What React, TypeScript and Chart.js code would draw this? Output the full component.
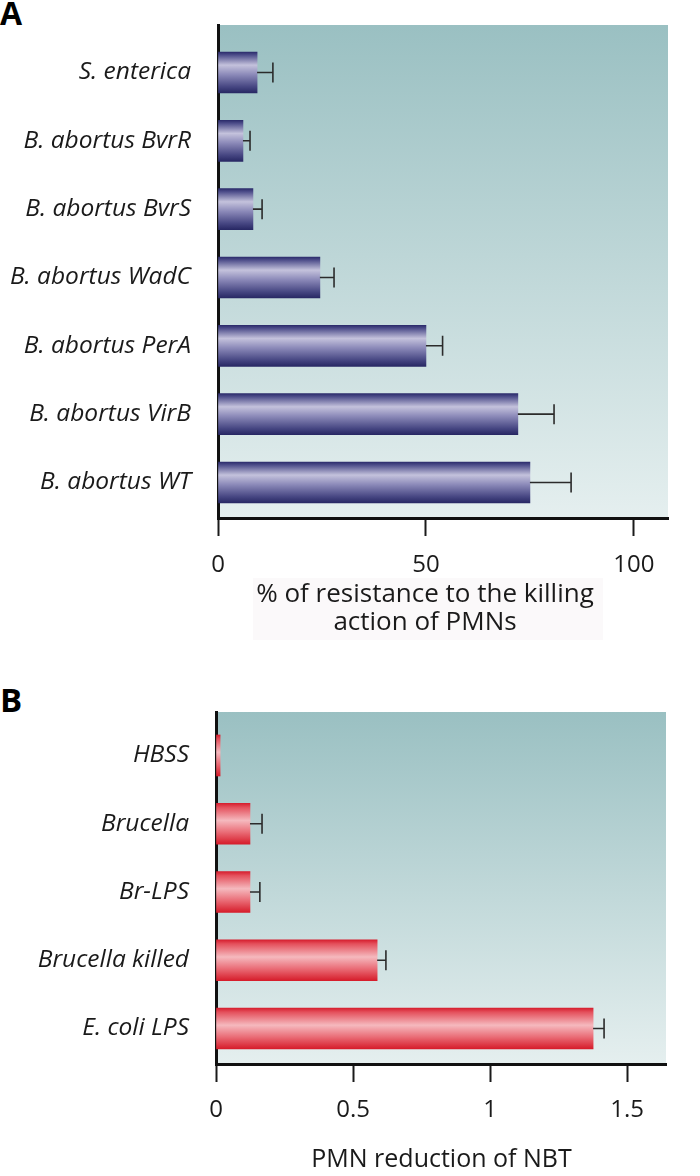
import React, { useEffect, useRef } from "react";
import { Chart, registerables } from "chart.js";

Chart.register(...registerables);

// ---------- data ----------
const categoriesA = [
  "S. enterica",
  "B. abortus BvrR",
  "B. abortus BvrS",
  "B. abortus WadC",
  "B. abortus PerA",
  "B. abortus VirB",
  "B. abortus WT",
];
const valuesA = [9.4, 6.0, 8.4, 24.5, 50, 72.1, 75];
const errorsA = [3.8, 1.7, 2.2, 3.4, 4.0, 8.7, 9.9];
const ticksA = [0, 50, 100];
const titleA = ["% of resistance to the killing", "action of PMNs"];

const categoriesB = ["HBSS", "Brucella", "Br-LPS", "Brucella killed", "E. coli LPS"];
const valuesB = [0.015, 0.124, 0.124, 0.588, 1.376];
const errorsB = [0, 0.044, 0.036, 0.032, 0.04];
const ticksB = [0, 0.5, 1, 1.5];
const titleB = "PMN reduction of NBT";

const FONT = "'Open Sans', 'Noto Sans', sans-serif";
const BAR_PX = 41;

const blueStops: [number, string][] = [
  [0, "rgb(44,44,108)"],
  [0.08, "rgb(80,80,140)"],
  [0.32, "rgb(196,194,220)"],
  [0.55, "rgb(140,138,185)"],
  [0.85, "rgb(70,70,130)"],
  [1, "rgb(40,40,100)"],
];
const redStops: [number, string][] = [
  [0, "rgb(214,30,46)"],
  [0.1, "rgb(228,80,92)"],
  [0.42, "rgb(245,185,190)"],
  [0.7, "rgb(234,110,120)"],
  [1, "rgb(214,28,42)"],
];

function barGradient(stops: [number, string][]) {
  return (ctx: any) => {
    const chart = ctx.chart;
    const ys = chart.scales && chart.scales.y;
    if (!ys || !chart.chartArea || ctx.dataIndex === undefined) return stops[2][1];
    const center = ys.getPixelForValue(ctx.dataIndex);
    const half = BAR_PX / 2;
    const g = chart.ctx.createLinearGradient(0, center - half, 0, center + half);
    stops.forEach(([o, c]) => g.addColorStop(o, c));
    return g;
  };
}

const bgPlugin = {
  id: "plotBg",
  beforeDraw(chart: any) {
    const { ctx, chartArea } = chart;
    if (!chartArea) return;
    const g = ctx.createLinearGradient(0, chartArea.top, 0, chartArea.bottom);
    g.addColorStop(0, "rgb(154,192,194)");
    g.addColorStop(1, "rgb(229,239,239)");
    ctx.save();
    ctx.fillStyle = g;
    ctx.fillRect(chartArea.left, chartArea.top, chartArea.right - chartArea.left, chartArea.bottom - chartArea.top);
    ctx.restore();
  },
};

const errPlugin = {
  id: "errBars",
  afterDatasetsDraw(chart: any, _args: any, opts: any) {
    const errs: number[] = opts.errors || [];
    const vals: number[] = opts.values || [];
    const ctx = chart.ctx;
    const xs = chart.scales.x;
    const ys = chart.scales.y;
    ctx.save();
    ctx.strokeStyle = "#2b2b2b";
    ctx.lineWidth = 1.6;
    vals.forEach((v: number, i: number) => {
      if (!errs[i]) return;
      const x0 = xs.getPixelForValue(v);
      const x1 = xs.getPixelForValue(v + errs[i]);
      const y = ys.getPixelForValue(i);
      ctx.beginPath();
      ctx.moveTo(x0, y);
      ctx.lineTo(x1, y);
      ctx.moveTo(x1, y - 10);
      ctx.lineTo(x1, y + 10);
      ctx.stroke();
    });
    ctx.restore();
  },
};

function makeConfig(
  labels: string[],
  values: number[],
  errors: number[],
  ticks: number[],
  xMax: number,
  yMin: number,
  yMax: number,
  yWidth: number,
  xHeight: number,
  tickPad: number,
  stops: [number, string][],
  padTop: number,
  padRight: number
): any {
  return {
    type: "bar",
    data: {
      datasets: [
        {
          data: values.map((v, i) => ({ x: v, y: i })),
          backgroundColor: barGradient(stops),
          borderWidth: 0,
          barThickness: BAR_PX,
        },
      ],
    },
    plugins: [bgPlugin, errPlugin],
    options: {
      indexAxis: "y",
      animation: false,
      responsive: false,
      maintainAspectRatio: false,
      devicePixelRatio: 1,
      layout: { padding: { top: padTop, right: padRight, left: 0, bottom: 0 } },
      plugins: {
        legend: { display: false },
        tooltip: { enabled: false },
        errBars: { errors, values },
      },
      scales: {
        x: {
          type: "linear",
          min: 0,
          max: xMax,
          afterFit: (s: any) => {
            s.height = xHeight;
          },
          afterBuildTicks: (s: any) => {
            s.ticks = ticks.map((v) => ({ value: v }));
          },
          grid: {
            display: true,
            drawOnChartArea: false,
            drawTicks: true,
            tickLength: 18,
            tickWidth: 2,
            tickColor: "#1a1a1a",
          },
          border: { display: true, color: "#111", width: 3 },
          ticks: {
            color: "#1a1a1a",
            padding: tickPad,
            maxRotation: 0,
            autoSkip: false,
            font: { family: FONT, size: 24 },
            callback: (v: any) => String(v),
          },
        },
        y: {
          type: "linear",
          reverse: true,
          min: yMin,
          max: yMax,
          offset: false,
          afterFit: (s: any) => {
            s.width = yWidth;
          },
          afterBuildTicks: (s: any) => {
            s.ticks = labels.map((_, i) => ({ value: i }));
          },
          grid: { display: false, drawTicks: false },
          border: { display: true, color: "#111", width: 3 },
          ticks: {
            color: "#1a1a1a",
            padding: 27,
            autoSkip: false,
            font: { family: FONT, size: 24.5, style: "italic" },
            callback: (v: any) => labels[Math.round(v)] ?? "",
          },
        },
      },
    },
  };
}

function ChartCanvas({ config, width, height, style }: any) {
  const ref = useRef<HTMLCanvasElement | null>(null);
  useEffect(() => {
    if (!ref.current) return;
    const c = new Chart(ref.current, config);
    return () => c.destroy();
  }, []);
  return <canvas ref={ref} width={width} height={height} style={{ position: "absolute", width, height, ...style }} />;
}

export default function App() {
  const cfgA = makeConfig(categoriesA, valuesA, errorsA, ticksA, 108.2, -0.695, 6.52, 218, 132, 15, blueStops, 45, 32);
  const cfgB = makeConfig(categoriesB, valuesB, errorsB, ticksB, 1.642, -0.637, 4.52, 216, 112, 14, redStops, 52, 34);
  const textBase: React.CSSProperties = {
    position: "absolute",
    fontFamily: FONT,
    color: "#1a1a1a",
    whiteSpace: "nowrap",
  };
  return (
    <div style={{ position: "absolute", left: 0, top: 0, width: 700, height: 1176, background: "#fff", overflow: "hidden" }}>
      <div style={{ ...textBase, left: 0, top: -3.4, fontSize: 32, lineHeight: "32px", fontWeight: 700, color: "#000" }}>A</div>
      <div style={{ ...textBase, left: 0, top: 682.7, fontSize: 33, lineHeight: "33px", fontWeight: 700, color: "#000" }}>B</div>
      <div style={{ position: "absolute", left: 253, top: 578, width: 350, height: 62, background: "#fbf9fa" }} />
      <ChartCanvas config={cfgA} width={700} height={670} style={{ left: 0, top: -20 }} />
      <ChartCanvas config={cfgB} width={700} height={516} style={{ left: 0, top: 660 }} />
      <div style={{ ...textBase, left: 175, top: 577.9, width: 500, textAlign: "center", fontSize: 26, lineHeight: "28px" }}>
        {titleA[0]}
        <br />
        {titleA[1]}
      </div>
      <div style={{ ...textBase, left: 191.5, top: 1143.3, width: 500, textAlign: "center", fontSize: 25, lineHeight: "28px" }}>
        {titleB}
      </div>
    </div>
  );
}
